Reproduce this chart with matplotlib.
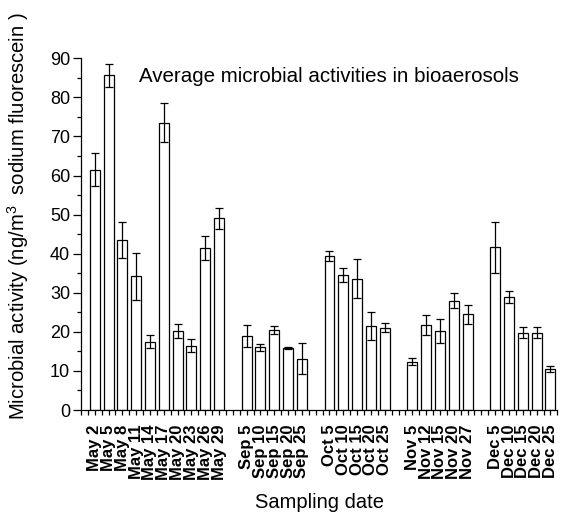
import matplotlib
matplotlib.use("Agg")
import matplotlib.pyplot as plt
import numpy as np
from matplotlib.ticker import FixedLocator, MultipleLocator

plt.rcParams["font.family"] = ["Liberation Sans", "DejaVu Sans"]
plt.rcParams["mathtext.fontset"] = "custom"
plt.rcParams["mathtext.rm"] = "Liberation Sans"
plt.rcParams["mathtext.default"] = "regular"

# Sampling campaigns: mean activity and standard deviation per date.
may_dates = ["May 2", "May 5", "May 8", "May 11", "May 14",
             "May 17", "May 20", "May 23", "May 26", "May 29"]
may_mean = [61.5, 85.6, 43.5, 34.2, 17.5, 73.5, 20.2, 16.5, 41.5, 49.1]
may_sd = [4.3, 3.0, 4.7, 6.1, 1.6, 5.0, 1.9, 1.7, 3.0, 2.7]

sep_dates = ["Sep 5", "Sep 10", "Sep 15", "Sep 20", "Sep 25"]
sep_mean = [19.0, 16.0, 20.5, 15.9, 13.1]
sep_sd = [2.8, 0.8, 1.1, 0.3, 4.0]

oct_dates = ["Oct 5", "Oct 10", "Oct 15", "Oct 20", "Oct 25"]
oct_mean = [39.4, 34.6, 33.6, 21.5, 21.1]
oct_sd = [1.3, 1.8, 5.0, 3.7, 1.2]

nov_dates = ["Nov 5", "Nov 12", "Nov 15", "Nov 20", "Nov 27"]
nov_mean = [12.4, 21.8, 20.3, 28.0, 24.5]
nov_sd = [0.8, 2.6, 3.1, 1.9, 2.4]

dec_dates = ["Dec 5", "Dec 10", "Dec 15", "Dec 20", "Dec 25"]
dec_mean = [41.6, 29.0, 19.8, 19.8, 10.5]
dec_sd = [6.5, 1.5, 1.5, 1.5, 0.8]

groups = [
    (may_dates, may_mean, may_sd),
    (sep_dates, sep_mean, sep_sd),
    (oct_dates, oct_mean, oct_sd),
    (nov_dates, nov_mean, nov_sd),
    (dec_dates, dec_mean, dec_sd),
]

# Lay the months out side by side with one empty slot between them.
pos, labels, means, sds = [], [], [], []
start = 0
for dates, mean, sd in groups:
    pos.extend(range(start, start + len(dates)))
    labels.extend(dates)
    means.extend(mean)
    sds.extend(sd)
    start += len(dates) + 1
pos = np.array(pos)

fig = plt.figure(figsize=(5.62, 5.19), dpi=100)
ax = fig.add_axes([0.144, 0.21, 0.8477, 0.6777])

ax.bar(pos, means, width=0.72, color="white", edgecolor="black",
       linewidth=0.9, zorder=2)
ax.errorbar(pos, means, yerr=sds, fmt="none", ecolor="black",
            elinewidth=0.9, capsize=3, capthick=0.9, zorder=3)

ax.set_xlim(-1, pos[-1] + 0.5)
ax.set_ylim(0, 90)

ax.set_xticks(pos)
ax.set_xticklabels(labels, rotation=90, fontsize=12, fontweight="bold")
ax.xaxis.set_minor_locator(FixedLocator(np.arange(-1, pos[-1] + 1, 0.5)))
ax.yaxis.set_major_locator(MultipleLocator(10))
ax.yaxis.set_minor_locator(MultipleLocator(5))

ax.tick_params(axis="x", which="both", direction="out", length=3.5,
               width=0.9, pad=7)
ax.tick_params(axis="y", which="major", direction="out", length=5.8,
               width=0.9, labelsize=13, pad=2)
ax.tick_params(axis="y", which="minor", direction="out", length=3.2,
               width=0.9)

for side in ("top", "right"):
    ax.spines[side].set_visible(False)
for side in ("left", "bottom"):
    ax.spines[side].set_linewidth(0.9)

ax.set_ylabel("Microbial activity (ng/m$^{3}$  sodium fluorescein )",
              fontsize=14.6)
ax.yaxis.set_label_coords(-0.105, 0.55)
ax.set_xlabel("Sampling date", fontsize=14.5)
ax.xaxis.set_label_coords(0.5, -0.235)

ax.text(0.122, 0.948, "Average microbial activities in bioaerosols",
        transform=ax.transAxes, fontsize=14.8, va="center", ha="left")

fig.savefig("out.png", dpi=100)
